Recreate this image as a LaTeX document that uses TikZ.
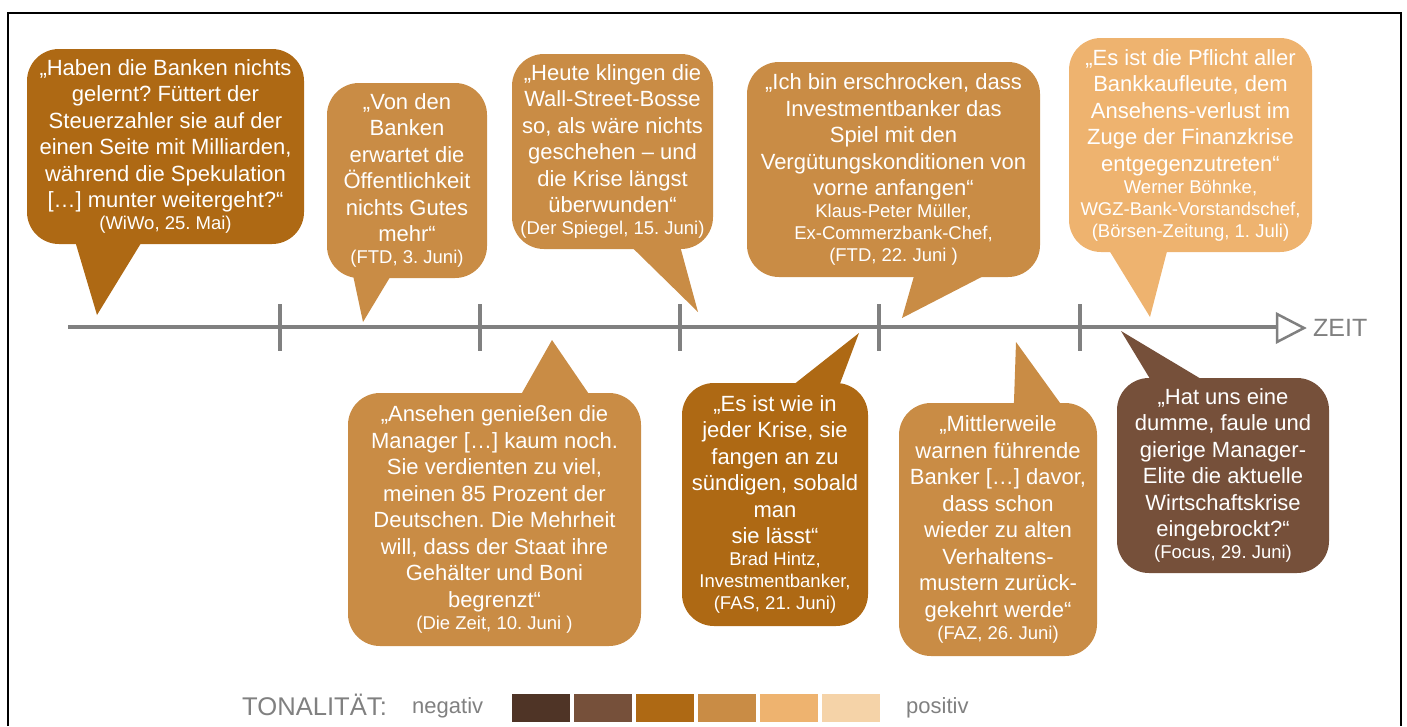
\documentclass[tikz,border=0pt]{standalone}
\usepackage{fontspec}
\setmainfont{Liberation Sans}
\usepackage{xcolor}
\usetikzlibrary{positioning,calc}
\frenchspacing

\definecolor{ton1}{HTML}{4F3426}
\definecolor{ton2}{HTML}{76503A}
\definecolor{ton3}{HTML}{AE6914}
\definecolor{ton4}{HTML}{C98C45}
\definecolor{ton5}{HTML}{EEB36F}
\definecolor{ton6}{HTML}{F5D3A8}
\definecolor{grau}{HTML}{808080}

\newcommand\quelle[1]{{\fontsize{18.5}{22}\selectfont #1}}

\begin{document}
\begin{tikzpicture}[
			x = 1pt, y = -1pt,
			blase/.style = {fill=#1, text=white, align=center, rounded corners=32pt, inner sep=0pt,
				font=\fontsize{22}{26.5}\selectfont},
			achse/.style = {draw=grau, line width=4pt},
			legende/.style = {text=grau, inner sep=0pt, anchor=base west}]

			\useasboundingbox (0,0) rectangle (1407,726);
			\draw[line width=2.3pt] (8,726) -- (8,13) -- (1401,13) -- (1401,726);

			\draw[achse] (68,327) -- (1277,327);
			\foreach \x in {280,480,680,879,1080}
				\draw[achse] (\x,304) -- (\x,351);
			\draw[grau, line width=2.5pt, fill=white, line join=miter] (1277,314) -- (1304,328) -- (1277,342) -- cycle;
			\node[text=grau, anchor=west, inner sep=0pt, font=\fontsize{25}{30}\selectfont] (zeit) at (1313,328) {ZEIT};

			\coordinate (s1) at (97,315);
			\coordinate (s2) at (363,322);
			\coordinate (s3) at (698,312);
			\coordinate (s4) at (902,318);
			\coordinate (s5) at (1150,317);
			\coordinate (s6) at (552,340);
			\coordinate (s7) at (859,333);
			\coordinate (s8) at (1016,342);
			\coordinate (s9) at (1121,331);

			\node[blase=ton3, minimum width=277pt, minimum height=195pt] (wiwo) at (165.5,146.5)
				{„Haben die Banken nichts\\ gelernt? Füttert der\\ Steuerzahler sie auf der\\ einen Seite mit Milliarden,\\ während die Spekulation\\ {[}…{]} munter weitergeht?“\\[-4.5pt] \quelle{(WiWo, 25. Mai)}};
			\node[blase=ton4, minimum width=160pt, minimum height=195pt] (ftdA) at (407,180.5)
				{„Von den\\ Banken\\ erwartet die\\ Öffentlichkeit\\ nichts Gutes\\ mehr“\\[-4.5pt] \quelle{(FTD, 3. Juni)}};
			\node[blase=ton4, minimum width=201pt, minimum height=195pt] (spiegel) at (612.5,151.5)
				{„Heute klingen die\\ Wall-Street-Bosse\\ so, als wäre nichts\\ geschehen – und\\ die Krise längst\\ überwunden“\\[-4.5pt] \quelle{(Der Spiegel, 15. Juni)}};
			\node[blase=ton4, minimum width=293pt, minimum height=215pt] (ftdB) at (893.5,169.5)
				{„Ich bin erschrocken, dass\\ Investmentbanker das\\ Spiel mit den\\ Vergütungskonditionen von\\ vorne anfangen“\\[-4.5pt] \quelle{Klaus-Peter Müller,}\\[-4.5pt] \quelle{Ex-Commerzbank-Chef,}\\[-4.5pt] \quelle{(FTD, 22. Juni )}};
			\node[blase=ton5, minimum width=243pt, minimum height=214pt] (boersen) at (1190.5,145)
				{„Es ist die Pflicht aller\\ Bankkaufleute, dem\\ Ansehens-verlust im\\ Zuge der Finanzkrise\\ entgegenzutreten“\\[-4.5pt] \quelle{Werner Böhnke,}\\[-4.5pt] \quelle{WGZ-Bank-Vorstandschef,}\\[-4.5pt] \quelle{(Börsen-Zeitung, 1. Juli)}};

			\node[blase=ton4, minimum width=293pt, minimum height=253pt] (diezeit) at (494.5,519.5)
				{„Ansehen genießen die\\ Manager {[}…{]} kaum noch.\\ Sie verdienten zu viel,\\ meinen 85 Prozent der\\ Deutschen. Die Mehrheit\\ will, dass der Staat ihre\\ Gehälter und Boni\\ begrenzt“\\[-4.5pt] \quelle{(Die Zeit, 10. Juni )}};
			\node[blase=ton3, minimum width=186pt, minimum height=243pt] (fas) at (775,504.5)
				{„Es ist wie in\\ jeder Krise, sie\\ fangen an zu\\ sündigen, sobald\\ man\\ sie lässt“\\[-4.5pt] \quelle{Brad Hintz,}\\[-4.5pt] \quelle{Investmentbanker,}\\[-4.5pt] \quelle{(FAS, 21. Juni)}};
			\node[blase=ton4, minimum width=198pt, minimum height=253pt] (faz) at (998,529.5)
				{„Mittlerweile\\ warnen führende\\ Banker {[}…{]} davor,\\ dass schon\\ wieder zu alten\\ Verhaltens-\\ mustern zurück-\\ gekehrt werde“\\[-4.5pt] \quelle{(FAZ, 26. Juni)}};
			\node[blase=ton2, minimum width=212pt, minimum height=195pt] (focus) at (1223,475.5)
				{„Hat uns eine\\ dumme, faule und\\ gierige Manager-\\ Elite die aktuelle\\ Wirtschaftskrise\\ eingebrockt?“\\[-4.5pt] \quelle{(Focus, 29. Juni)}};

			\fill[ton3] ($(wiwo.south west)+(48,-4)$) -- (s1) -- ($(wiwo.south west)+(116,-4)$) -- cycle;
			\fill[ton4] ($(ftdA.south west)+(26,-4)$) -- (s2) -- ($(ftdA.south west)+(65,-4)$) -- cycle;
			\fill[ton4] ($(spiegel.south west)+(118,-4)$) -- (s3) -- ($(spiegel.south west)+(168,-4)$) -- cycle;
			\fill[ton4] ($(ftdB.south west)+(168,-4)$) -- (s4) -- ($(ftdB.south west)+(246,-6)$) -- cycle;
			\fill[ton5] ($(boersen.south west)+(39,-4)$) -- (s5) -- ($(boersen.south west)+(99,-4)$) -- cycle;
			\fill[ton4] ($(diezeit.north west)+(172,4)$) -- (s6) -- ($(diezeit.north west)+(243,4)$) -- cycle;
			\fill[ton3] ($(fas.north west)+(109,4)$) -- (s7) -- ($(fas.north west)+(157,4)$) -- cycle;
			\fill[ton4] ($(faz.north west)+(115,4)$) -- (s8) -- ($(faz.north west)+(164,4)$) -- cycle;
			\fill[ton2] ($(focus.north west)+(35,4)$) -- (s9) -- ($(focus.north west)+(89,4)$) -- cycle;

			\node[legende, font=\fontsize{25.6}{30}\selectfont] (tonalitaet) at (242,715) {TONALITÄT:};
			\node[legende, font=\fontsize{22}{26}\selectfont] (negativ) at (412,713) {negativ};
			\foreach \farbe [count=\n from 0] in {ton1,ton2,ton3,ton4,ton5,ton6}
				\fill[\farbe] ({512+62*\n},694) rectangle ++(58,28);
			\node[legende, font=\fontsize{22}{26}\selectfont] (positiv) at (906,713) {positiv};

		\end{tikzpicture}
\end{document}
